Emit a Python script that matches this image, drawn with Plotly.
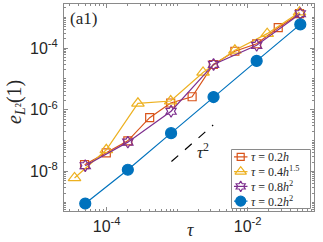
import plotly.graph_objects as go

# ---- data ----
tau_red = [4.87e-5, 9.9e-5, 2.0e-4, 4.08e-4, 8.1e-4, 1.63e-3, 3.26e-3, 6.58e-3, 1.34e-2, 2.71e-2, 5.43e-2]
err_red = [1.66e-8, 4.04e-8, 9.86e-8, 5.56e-7, 1.66e-6, 2.65e-6, 2.94e-5, 7.89e-5, 1.38e-4, 4.58e-4, 1.30e-3]

tau_yel = [3.51e-5, 9.9e-5, 2.78e-4, 8.1e-4, 2.33e-3, 6.58e-3, 1.89e-2, 5.43e-2]
err_yel = [6.17e-9, 5.05e-8, 1.62e-6, 1.92e-6, 1.62e-5, 8.49e-5, 2.94e-4, 1.46e-3]

tau_pur = [4.98e-5, 2.0e-4, 8.2e-4, 3.28e-3, 1.34e-2, 5.57e-2]
err_pur = [1.54e-8, 8.95e-8, 8.95e-7, 2.96e-5, 1.23e-4, 1.30e-3]

tau_blu = [4.98e-5, 2.0e-4, 8.2e-4, 3.28e-3, 1.34e-2, 5.57e-2]
err_blu = [9.14e-10, 1.14e-8, 1.75e-7, 2.59e-6, 3.84e-5, 5.86e-4]

ref_tau = [8.3e-4, 3.24e-3]
ref_err = [2.1e-8, 3.2e-7]

x_tickvals = [1e-4, 1e-2]
x_ticktext = ["10<sup>-4</sup>", "10<sup>-2</sup>"]
y_tickvals = [1e-8, 1e-6, 1e-4]
y_ticktext = ["10<sup>-8</sup>", "10<sup>-6</sup>", "10<sup>-4</sup>"]

names = ["<i>τ</i> = 0.2<i>h</i>", "<i>τ</i> = 0.4<i>h</i><sup>1.5</sup>",
         "<i>τ</i> = 0.8<i>h</i><sup>2</sup>", "<i>τ</i> = 0.2<i>h</i><sup>2</sup>"]

C_RED, C_YEL, C_PUR, C_BLU = "#D95319", "#EDB120", "#7E2F8E", "#0072BD"
colors = [C_RED, C_YEL, C_PUR, C_BLU]
symbols = ["square-open", "triangle-up-open", "hexagram-open", "circle"]
msizes = [8, 11, 9, 11]
AX = "#8a8a8a"
TXT = "#262626"

minor_x = [m * 10.0 ** k for k in range(-5, 0) for m in range(1, 10)]
minor_x = [v for v in minor_x if v not in (1e-4, 1e-2)]
minor_y = [m * 10.0 ** k for k in range(-10, -1) for m in range(1, 10)]
minor_y = [v for v in minor_y if v not in (1e-8, 1e-6, 1e-4)]

fig = go.Figure()
series = [(tau_red, err_red), (tau_yel, err_yel), (tau_pur, err_pur), (tau_blu, err_blu)]
for (xs, ys), nm, c, s, ms in zip(series, names, colors, symbols, msizes):
    fig.add_trace(go.Scatter(x=xs, y=ys, mode="lines+markers", name=nm, showlegend=False,
                             line=dict(color=c, width=1.2),
                             marker=dict(symbol=s, size=ms, color=c, line=dict(width=1.2, color=c))))
fig.add_trace(go.Scatter(x=ref_tau, y=ref_err, mode="lines", showlegend=False,
                         line=dict(color="black", width=1.2, dash="dash")))

# ---- legend drawn on an overlay axis measured in pixels ----
LX0, LX1, LY0, LY1 = 231.5, 310.5, 149.5, 208.5
row_h = (LY1 - LY0) / 4
fig.add_shape(type="rect", xref="x2", yref="y2", x0=LX0, x1=LX1, y0=LY0, y1=LY1,
              fillcolor="white", line=dict(color=AX, width=1), layer="below")
for i, (nm, c, s, ms) in enumerate(zip(names, colors, symbols, msizes)):
    yc = LY0 + row_h * (i + 0.5)
    fig.add_trace(go.Scatter(x=[234, 247.5], y=[yc, yc], xaxis="x2", yaxis="y2", mode="lines",
                             line=dict(color=c, width=1.2), showlegend=False, hoverinfo="skip"))
    fig.add_trace(go.Scatter(x=[240.7], y=[yc], xaxis="x2", yaxis="y2", mode="markers",
                             marker=dict(symbol=s, size=ms - 1, color=c, line=dict(width=1.2, color=c)),
                             showlegend=False, hoverinfo="skip"))
    fig.add_annotation(x=248.5, y=yc, xref="x2", yref="y2", xanchor="left", yanchor="middle",
                       text=nm, showarrow=False,
                       font=dict(family="Liberation Serif", size=12, color=TXT))

axis_common = dict(type="log", showgrid=False, zeroline=False, showline=True,
                   linecolor=AX, linewidth=1, mirror="allticks", automargin=False,
                   ticks="inside", ticklen=4, tickcolor=AX,
                   tickfont=dict(family="Liberation Sans", size=16, color=TXT))

fig.update_layout(
    xaxis=dict(**axis_common, range=[-4.604, -1.06], tickmode="array",
               tickvals=x_tickvals, ticktext=x_ticktext, ticklabelstandoff=1,
               minor=dict(tickmode="array", tickvals=minor_x, ticks="inside", ticklen=2, tickcolor=AX)),
    yaxis=dict(**axis_common, range=[-9.281, -2.571], tickmode="array",
               tickvals=y_tickvals, ticktext=y_ticktext, ticklabelstandoff=2,
               minor=dict(tickmode="array", tickvals=minor_y, ticks="inside", ticklen=2, tickcolor=AX)),
    xaxis2=dict(overlaying="x", range=[64, 314], visible=False, fixedrange=True, automargin=False),
    yaxis2=dict(overlaying="y", range=[211, 4], visible=False, fixedrange=True, automargin=False),
)

# axis titles as annotations in paper space (pixel positions converted)
fig.add_annotation(x=(190 - 64) / 250, y=(211 - 230) / 207, xref="paper", yref="paper",
                   xanchor="center", yanchor="middle",
                   text="<i>τ</i>", showarrow=False,
                   font=dict(family="Liberation Serif", size=18, color=TXT))
fig.add_annotation(x=(15 - 64) / 250, y=(211 - 102) / 207, xref="paper", yref="paper",
                   xanchor="center", yanchor="middle",
                   textangle=-90, text="<i>e</i><sub><i>L</i>²</sub>(1)", showarrow=False,
                   font=dict(family="Liberation Serif", size=20, color=TXT))

fig.add_annotation(x=0.015, y=0.985, xref="paper", yref="paper", xanchor="left", yanchor="top",
                   text="(a1)", showarrow=False,
                   font=dict(family="Liberation Serif", size=17, color=TXT))
fig.add_annotation(x=-2.63, y=-7.33, xref="x", yref="y", xanchor="center", yanchor="middle",
                   text="<i>τ</i><sup>2</sup>", showarrow=False,
                   font=dict(family="Liberation Serif", size=17, color=TXT))

fig.update_layout(width=323, height=242, margin=dict(l=64, r=9, t=4, b=31, autoexpand=False),
                  paper_bgcolor="white", plot_bgcolor="white", showlegend=False)

fig.write_html("out.html", config={"displayModeBar": False},
               post_script="document.body.style.margin='0px';document.body.style.overflow='hidden';")
